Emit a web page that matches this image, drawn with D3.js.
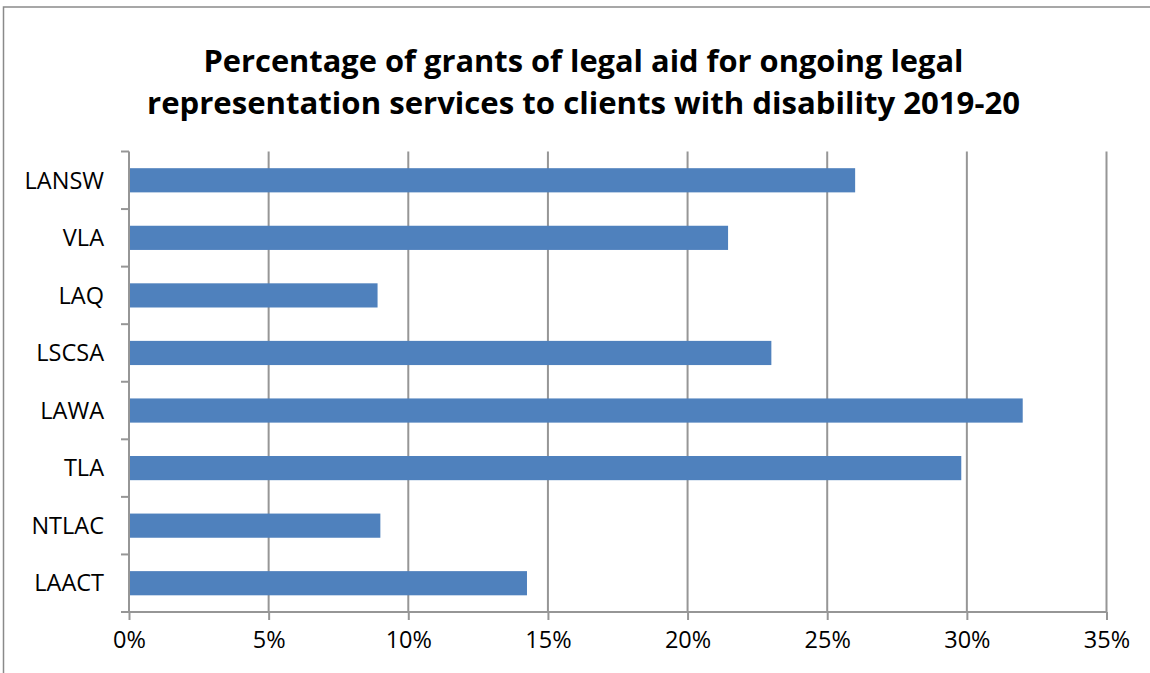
<!DOCTYPE html>
<html>
<head>
<meta charset="utf-8">
<script src="https://cdn.jsdelivr.net/npm/d3@7"></script>
<style>
  body { margin: 0; background: #fff; }
  text { font-family: "Open Sans", "Liberation Sans", sans-serif; fill: #000; }
</style>
</head>
<body>
<svg id="bar"></svg>
<script>
var width = 1150, height = 673;

// data
var agencies = ["LANSW", "VLA", "LAQ", "LSCSA", "LAWA", "TLA", "NTLAC", "LAACT"];
var percents = [26.0, 21.45, 8.9, 23.0, 32.0, 29.8, 9.0, 14.25];
var xTicks = [0, 5, 10, 15, 20, 25, 30, 35];
var titleLines = [
  "Percentage of grants of legal aid for ongoing legal",
  "representation services to clients with disability 2019-20"
];

var data = agencies.map((a, i) => ({ name: a, value: percents[i] }));

var svg = d3.select("#bar")
  .attr("width", width)
  .attr("height", height);

var padding = { top: 151.5, right: 43.5, bottom: 61, left: 129 };
var gridColor = "#969696";

// outer chart border (only top and left are in frame)
svg.append("path")
  .attr("d", "M3.5," + height + " V7 H" + width)
  .attr("fill", "none")
  .attr("stroke", "#8a8a8a")
  .attr("stroke-width", 1.5);

//!Title
var titleWidths = [760, 873];
svg.append("g").selectAll("text")
  .data(titleLines)
  .enter().append("text")
  .attr("x", 583.5)
  .attr("y", (d, i) => 72 + i * 42)
  .attr("text-anchor", "middle")
  .attr("font-size", "31px")
  .attr("font-weight", "bold")
  .attr("textLength", (d, i) => titleWidths[i])
  .attr("lengthAdjust", "spacingAndGlyphs")
  .text(d => d);

var xScale = d3.scaleLinear()
  .domain([0, 35])
  .range([padding.left, width - padding.right]);

var yScale = d3.scaleBand()
  .domain(agencies)
  .range([padding.top, height - padding.bottom])
  .paddingInner(0.58)
  .paddingOuter(0.29);

// vertical gridlines
svg.append("g")
  .selectAll("line")
  .data(xTicks.slice(1))
  .enter().append("line")
  .attr("x1", d => xScale(d))
  .attr("x2", d => xScale(d))
  .attr("y1", padding.top)
  .attr("y2", height - padding.bottom)
  .attr("stroke", gridColor)
  .attr("stroke-width", 2);

// bars
svg.append("g")
  .selectAll(".bar")
  .data(data)
  .enter().append("rect")
  .classed("bar", true)
  .attr("x", xScale(0))
  .attr("y", d => yScale(d.name))
  .attr("width", d => xScale(d.value) - xScale(0))
  .attr("height", yScale.bandwidth())
  .attr("fill", "#4f81bd");

//!x-axis
var xAxis = d3.axisBottom(xScale)
  .tickValues(xTicks)
  .tickFormat(d => d + "%")
  .tickSize(8)
  .tickPadding(11);

var gx = svg.append("g")
  .attr("transform", "translate(0," + (height - padding.bottom) + ")")
  .call(xAxis);
gx.select(".domain").attr("stroke", gridColor).attr("stroke-width", 2)
  .attr("d", "M" + xScale(0) + ",0H" + xScale(35));
gx.selectAll(".tick line").attr("stroke", gridColor).attr("stroke-width", 2);
gx.selectAll(".tick text")
  .attr("font-size", "23.5px")
  .attr("font-family", "'Open Sans', sans-serif")
  .attr("fill", "#000");

//!y-axis: ticks sit on band boundaries
var yEdges = agencies.map(a => yScale(a) - yScale.step() * yScale.paddingInner() / 2);
yEdges.push(height - padding.bottom);

var gy = svg.append("g");
gy.append("line")
  .attr("x1", padding.left).attr("x2", padding.left)
  .attr("y1", padding.top).attr("y2", height - padding.bottom)
  .attr("stroke", gridColor).attr("stroke-width", 2);
gy.selectAll(".ytick")
  .data(yEdges)
  .enter().append("line")
  .attr("x1", padding.left - 8).attr("x2", padding.left)
  .attr("y1", d => d).attr("y2", d => d)
  .attr("stroke", gridColor).attr("stroke-width", 2);
gy.selectAll(".ylabel")
  .data(agencies)
  .enter().append("text")
  .attr("x", 104)
  .attr("y", d => yScale(d) + yScale.bandwidth() / 2)
  .attr("dy", "0.35em")
  .attr("text-anchor", "end")
  .attr("font-size", "23.5px")
  .text(d => d);
</script>
</body>
</html>
